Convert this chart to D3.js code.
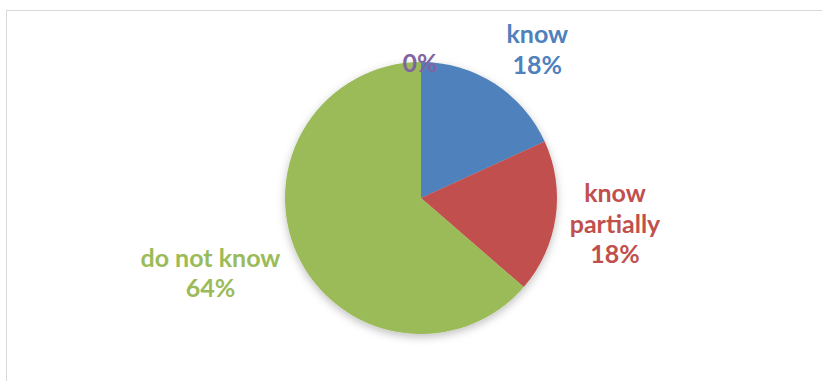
<!DOCTYPE html>
<html>
<head>
<meta charset="utf-8">
<script src="https://cdn.jsdelivr.net/npm/d3@7/dist/d3.min.js"></script>
<style>
  html, body { margin: 0; padding: 0; background: #fff; }
  svg { display: block; }
</style>
</head>
<body>
<svg id="chart" width="822" height="381"></svg>
<script>
// Survey answers (respondent counts) and slice colours
const categories = ["know", "know partially", "do not know", ""];
const counts = [2, 2, 7, 0];
const colors = ["#4F81BD", "#C0504D", "#9BBB59", "#8064A2"];
// Label text lines (category name split over lines)
const labelLines = [["know"], ["know", "partially"], ["do not know"], []];

const W = 822, H = 381;
const cx = 421, cy = 198, R = 136;

const svg = d3.select("#chart");

// chart area frame
svg.append("rect")
  .attr("x", 6.5).attr("y", 10.5)
  .attr("width", W + 10).attr("height", H + 10)
  .attr("fill", "#fff")
  .attr("stroke", "#d9d9d9").attr("stroke-width", 1);

const defs = svg.append("defs");
const f = defs.append("filter").attr("id", "shadow")
  .attr("x", "-20%").attr("y", "-20%").attr("width", "140%").attr("height", "140%");
f.append("feDropShadow")
  .attr("dx", 0).attr("dy", 3).attr("stdDeviation", 4)
  .attr("flood-color", "#000").attr("flood-opacity", 0.25);

const total = d3.sum(counts);
const data = categories.map((c, i) => ({ name: c, value: counts[i], color: colors[i], lines: labelLines[i], share: counts[i] / total }));

const pie = d3.pie().value(d => d.value).sort(null);
const arcs = pie(data);
const arc = d3.arc().innerRadius(0).outerRadius(R);

const g = svg.append("g").attr("transform", `translate(${cx},${cy})`);
g.append("g").attr("filter", "url(#shadow)")
  .selectAll("path").data(arcs).join("path")
  .attr("d", arc)
  .attr("fill", d => d.data.color);

// label placement: distance from centre along the slice bisector, plus a nudge
const labelDist = [180, 196, 215, 135];
const labelNudge = [[19, 3], [0, -2], [-15, -14], [-1, 0]];
const fmt = d3.format(".0%");
const fontSize = 25, lineH = 30.5;

arcs.forEach((a, i) => {
  const mid = (a.startAngle + a.endAngle) / 2;
  const x = Math.sin(mid) * labelDist[i] + labelNudge[i][0];
  const y = -Math.cos(mid) * labelDist[i] + labelNudge[i][1];
  const lines = a.data.lines.concat([fmt(a.data.share)]);
  const t = g.append("text")
    .attr("text-anchor", "middle")
    .attr("font-family", "Lato, 'Open Sans', sans-serif")
    .attr("font-weight", "bold")
    .attr("font-size", fontSize)
    .attr("fill", a.data.color);
  const y0 = y - (lines.length - 1) * lineH / 2;
  lines.forEach((ln, k) => {
    t.append("tspan").attr("x", x).attr("y", y0 + k * lineH).attr("dy", "0.35em").text(ln);
  });
});
</script>
</body>
</html>
